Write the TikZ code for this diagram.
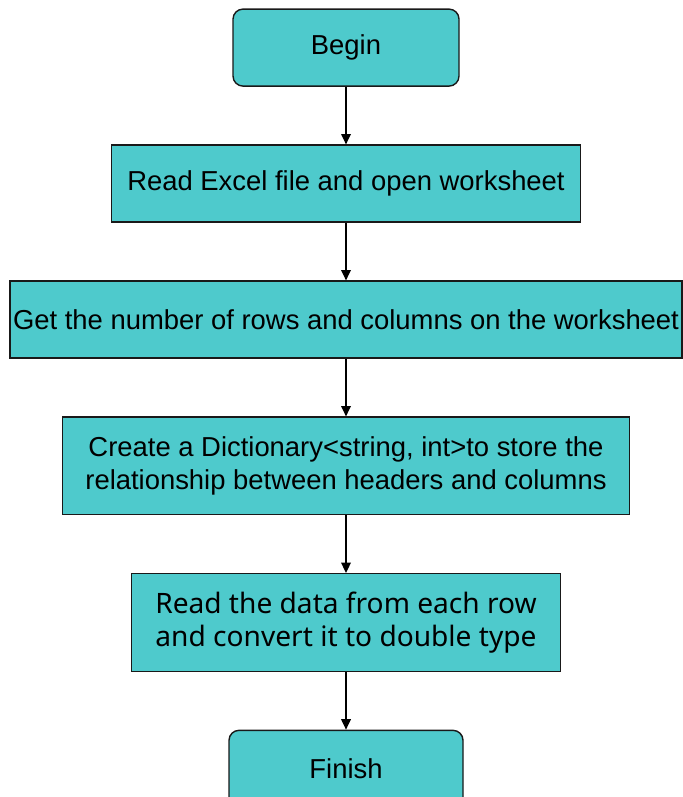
\documentclass[tikz,border=0pt]{standalone}
\usepackage{fontspec}
\setmainfont{Liberation Sans}
\newfontfamily\roundsans{Noto Sans}
\usetikzlibrary{arrows.meta,positioning}
\definecolor{boxcyan}{RGB}{78,202,204}

\begin{document}
\begin{tikzpicture}[node distance=1.44cm,
  proc/.style={draw=black!90, fill=boxcyan, line width=1pt, minimum height=1.925cm,
    inner sep=0pt, align=center, font=\fontsize{19.5}{24}\selectfont},
  term/.style={proc, rounded corners=0.25cm},
  flow/.style={-{Triangle[length=0.26cm,width=0.24cm]}, line width=1pt}]
  \useasboundingbox (0,0) rectangle (17.05,-19.925);
  \node[term, minimum width=5.65cm]  (begin)  at (8.65,-1.19) {Begin};
  \node[proc, minimum width=11.725cm] (readxls) [below=of begin] {Read Excel file and open worksheet};
  \node[proc, minimum width=16.8cm]  (count)  [below=of readxls] {Get the number of rows and columns on the worksheet};
  \node[proc, minimum width=14.175cm, minimum height=2.44cm] (dict) [below=of count]
    {Create a Dictionary<string, int>to store the\\relationship between headers and columns};
  \node[proc, minimum width=10.725cm, minimum height=2.44cm, font=\roundsans\fontsize{20}{24}\selectfont]
    (readrow) [below=of dict] {Read the data from each row\\and convert it to double type};
  \node[term, minimum width=5.85cm]  (finish) [below=of readrow] {Finish};
  \draw[flow] (begin) -- (readxls);
  \draw[flow] (readxls) -- (count);
  \draw[flow] (count) -- (dict);
  \draw[flow] (dict) -- (readrow);
  \draw[flow] (readrow) -- (finish);
\end{tikzpicture}
\end{document}
